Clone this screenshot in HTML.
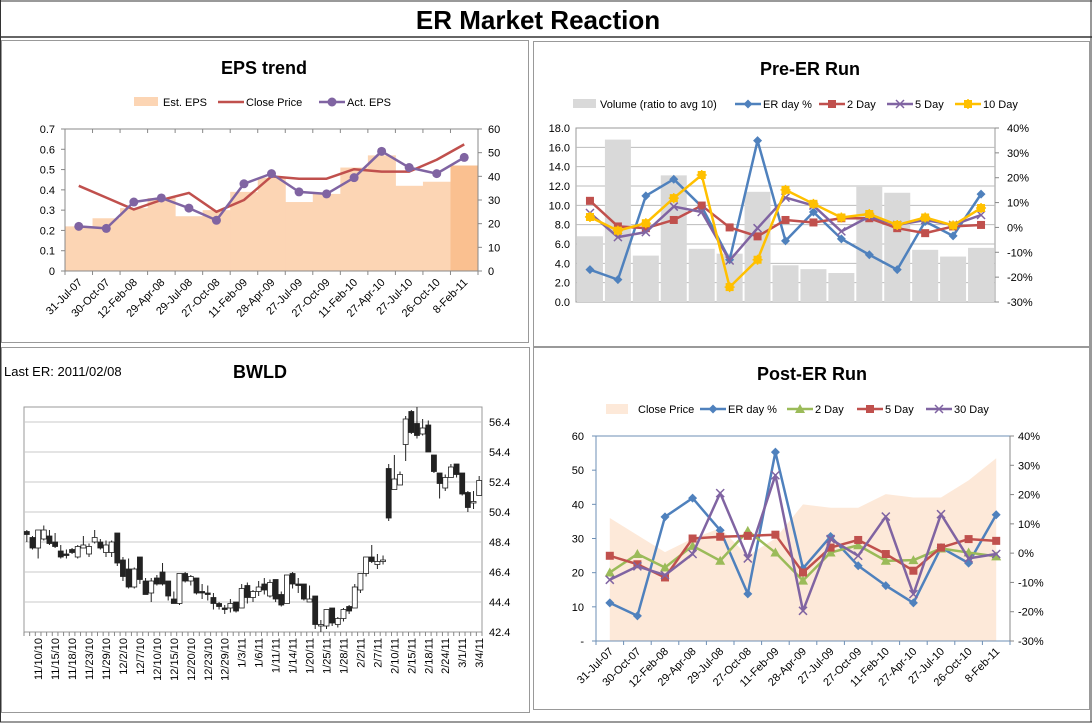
<!DOCTYPE html>
<html><head><meta charset="utf-8"><style>
body{margin:0;background:#fff}
svg{display:block;font-family:"Liberation Sans",sans-serif}
</style></head><body>
<svg id="s" width="1092" height="727" viewBox="0 0 1092 727">
<rect x="0" y="0" width="1092" height="727" fill="#fff"/>
<line x1="0" y1="1" x2="1092" y2="1" stroke="#333"/>
<line x1="0" y1="37" x2="1092" y2="37" stroke="#333" stroke-width="1.5"/>
<line x1="0" y1="722" x2="1092" y2="722" stroke="#333"/>
<line x1="0.5" y1="0" x2="0.5" y2="722" stroke="#333"/>
<line x1="1091" y1="0" x2="1091" y2="722" stroke="#333"/>
<text x="538" y="29" text-anchor="middle" font-size="26" font-weight="bold">ER Market Reaction</text>
<rect x="1.5" y="40.5" width="527" height="302" fill="none" stroke="#999"/>
<rect x="533.5" y="41.5" width="556" height="305" fill="none" stroke="#999"/>
<rect x="1.5" y="347.5" width="528" height="365" fill="none" stroke="#999"/>
<rect x="533.5" y="347.5" width="556" height="362" fill="none" stroke="#999"/>
<text x="264" y="74" text-anchor="middle" font-size="18" font-weight="bold">EPS trend</text>
<text x="810" y="75" text-anchor="middle" font-size="18" font-weight="bold">Pre-ER Run</text>
<text x="260" y="378" text-anchor="middle" font-size="18" font-weight="bold">BWLD</text>
<text x="4" y="376" font-size="13">Last ER: 2011/02/08</text>
<text x="812" y="380" text-anchor="middle" font-size="18" font-weight="bold">Post-ER Run</text>
</svg>
<script>
// ---------- data ----------
const erDates = ["31-Jul-07","30-Oct-07","12-Feb-08","29-Apr-08","29-Jul-08","27-Oct-08","11-Feb-09","28-Apr-09","27-Jul-09","27-Oct-09","11-Feb-10","27-Apr-10","27-Jul-10","26-Oct-10","8-Feb-11"];
const estEps = [0.22,0.26,0.31,0.36,0.27,0.30,0.39,0.46,0.34,0.38,0.51,0.57,0.42,0.44,0.52];
const actEps = [0.22,0.21,0.34,0.36,0.31,0.25,0.43,0.48,0.39,0.38,0.46,0.59,0.51,0.48,0.56];
const closePrice = [36,31,26,30,33,25,30,40,39,39,43,42,42,47,53.5];
const epsLeftTicks = [0,0.1,0.2,0.3,0.4,0.5,0.6,0.7];
const epsRightTicks = [0,10,20,30,40,50,60];

const preVolume = [6.8,16.8,4.8,13.1,5.5,5.0,11.4,3.8,3.4,3.0,12.0,11.3,5.4,4.7,5.6];
const preErDay = [-17,-21,12.7,19.4,8.4,-13,34.9,-5.4,6.2,-4.6,-11,-17,2.4,-3.4,13.4];
const pre2Day = [10.7,0.4,-0.3,3,8.8,0,-3.6,3,2,3.7,3.7,-0.3,-2.3,0.4,1];
const pre5Day = [5.8,-3.9,-1.9,8.4,6.2,-13.3,-0.3,12,8.8,-1.6,4.4,1,3,1,5];
const pre10Day = [4.2,-1.3,1.7,11.8,21.1,-24,-13,15.1,9.5,4,5.4,1,4,0.8,7.8];
const preLeftTicks = [0,2,4,6,8,10,12,14,16,18];
const pctTicks = [-30,-20,-10,0,10,20,30,40];

const postErDay = [-17,-21.4,12.4,18.8,7.8,-13.9,34.5,-5.2,5.7,-4.3,-11.1,-17,1.9,-3.4,13.1];
const post2Day = [-6.6,-0.3,-4.9,2.5,-2.6,7.6,0.2,-9.4,0.2,2.7,-2.6,-2.4,1.6,0.2,-1.1];
const post5Day = [-0.9,-3.8,-8.3,5,5.6,5.9,6.3,-6.6,1.9,4.5,-0.3,-6,1.9,4.8,4.2];
const post30Day = [-9.1,-4.5,-7.5,-0.3,20.5,-1.8,26.6,-19.7,4.8,-0.9,12.5,-14,13.3,-1.8,-0.3];
const postLeftTicks = [0,10,20,30,40,50,60];

const candleOpen  = [49.1,48.7,48.0,48.6,48.8,48.4,47.8,47.6,47.9,47.4,48.0,47.6,48.4,48.4,47.7,47.7,49.0,47.2,46.6,45.4,47.4,45.8,45.0,46.0,46.4,45.8,44.6,44.3,46.3,45.8,46.0,45.1,45.0,44.7,44.3,44.0,44.0,44.4,44.0,45.5,44.7,45.1,45.6,44.8,45.9,44.9,44.3,46.3,45.6,45.6,44.4,44.8,42.8,42.8,44.0,42.9,43.3,44.1,44.0,45.2,46.3,47.4,46.9,47.1,53.3,51.9,52.2,54.9,57.1,56.3,55.6,56.2,54.2,53.0,52.0,52.7,53.6,53.0,51.7,51.1,51.5];
const candleHigh  = [49.2,48.8,49.2,49.5,49.2,49.0,48.2,47.9,48.0,48.2,48.8,48.3,49.2,48.6,48.5,48.5,49.0,47.4,47.3,46.7,47.4,46.0,46.0,46.2,47.0,45.8,45.1,46.3,46.4,46.2,46.0,45.6,45.5,45.0,44.4,44.2,44.6,44.4,45.6,45.7,45.2,45.8,46.0,45.9,45.9,45.1,46.2,46.4,46.0,45.6,45.5,44.8,43.2,43.9,44.0,43.4,44.0,44.2,45.6,46.3,47.4,48.2,47.6,47.5,53.6,54.2,53.1,56.8,57.2,57.4,56.6,56.5,54.2,53.0,52.9,53.6,53.6,53.0,51.8,51.8,52.8];
const candleLow   = [48.4,47.9,47.3,48.5,48.2,48.0,47.3,47.3,47.6,47.3,48.0,47.4,48.3,47.9,47.4,47.4,46.8,45.8,45.3,45.3,45.6,44.9,44.4,45.5,45.5,44.5,44.3,44.2,45.7,45.5,44.9,44.6,44.5,43.9,43.9,43.6,43.7,43.7,44.0,44.3,44.4,44.8,44.9,44.7,44.4,44.1,44.3,45.3,45.0,44.5,44.4,42.6,42.4,42.6,42.8,42.7,43.1,43.6,44.0,45.0,46.1,47.0,46.6,46.9,49.8,51.9,52.2,53.8,55.6,55.3,55.5,54.4,53.0,51.3,51.8,52.7,52.7,51.5,50.4,50.6,51.5];
const candleClose = [48.9,48.0,49.2,49.2,48.3,48.1,47.4,47.5,47.7,48.1,48.2,48.1,48.7,48.0,48.2,48.4,47.0,46.1,45.4,46.6,45.9,44.9,45.8,45.6,45.6,44.8,44.3,46.3,45.8,46.1,45.0,45.0,44.9,44.3,44.1,43.9,44.3,43.8,45.3,44.7,45.1,45.4,45.2,45.7,44.6,44.2,46.2,45.6,45.5,44.6,44.6,42.9,42.9,43.9,43.0,43.3,43.9,43.8,45.4,46.3,47.4,47.1,47.1,47.2,50.0,52.6,52.9,56.6,55.7,55.5,56.0,54.4,53.1,52.3,52.7,53.4,52.9,51.6,50.7,51.1,52.5];
const priceTicks = [42.4,44.4,46.4,48.4,50.4,52.4,54.4,56.4];

// ---------- helpers ----------
const S = document.getElementById('s');
const NS = 'http://www.w3.org/2000/svg';
function mk(tag, attrs, name, text) {
  const el = document.createElementNS(NS, tag);
  for (const k in attrs) el.setAttribute(k, attrs[k]);
  
  
  if (text !== undefined) el.textContent = text;
  S.appendChild(el);
  return el;
}
function lin(d0, d1, r0, r1) { return v => r0 + (v - d0) / (d1 - d0) * (r1 - r0); }
function marker(type, x, y, color, name) {
  if (type === 'circle') mk('circle', {cx:x, cy:y, r:4.5, fill:color}, name);
  else if (type === 'square') mk('rect', {x:x-4, y:y-4, width:8, height:8, fill:color}, name);
  else if (type === 'diamond') mk('path', {d:`M${x} ${y-4.5}L${x+4.5} ${y}L${x} ${y+4.5}L${x-4.5} ${y}Z`, fill:color}, name);
  else if (type === 'tri') mk('path', {d:`M${x} ${y-5}L${x+5} ${y+4}L${x-5} ${y+4}Z`, fill:color}, name);
  else if (type === 'x') mk('path', {d:`M${x-4} ${y-4}L${x+4} ${y+4}M${x-4} ${y+4}L${x+4} ${y-4}`, stroke:color, 'stroke-width':1.5}, name);
  else if (type === 'star') { mk('rect', {x:x-4, y:y-4, width:8, height:8, fill:color}, name); mk('path', {d:`M${x-5} ${y}L${x+5} ${y}M${x} ${y-5}L${x} ${y+5}`, stroke:color, 'stroke-width':1.5}, name); }
}
function series(vals, xf, yf, color, mtype, name, w) {
  const pts = vals.map((v, i) => xf(i) + ',' + yf(v)).join(' ');
  mk('polyline', {points:pts, fill:'none', stroke:color, 'stroke-width':w || 2.5, 'stroke-linejoin':'round'}, name + '-line');
  if (mtype) vals.forEach((v, i) => marker(mtype, xf(i), yf(v), color, name + '-point'));
}
function legendLine(x, y, color, mtype, label, name) {
  mk('line', {x1:x, y1:y, x2:x+26, y2:y, stroke:color, 'stroke-width':2.5}, name + '-swatch');
  if (mtype) marker(mtype, x+13, y, color, name + '-swatch-marker');
  mk('text', {x:x+28, y:y+4, 'font-size':11}, name, label);
}
function xLabels45(xf, y, name) {
  erDates.forEach((d, i) => {
    const x = xf(i) + 4;
    mk('text', {x:x, y:y, 'font-size':11, 'text-anchor':'end', transform:`rotate(-45 ${x} ${y})`}, name, d);
  });
}
const C_BLUE = '#4F81BD', C_RED = '#C0504D', C_PURPLE = '#8064A2', C_GREEN = '#9BBB59', C_YEL = '#FFC000';

// ---------- EPS trend ----------
(function () {
  const x0 = 65, x1 = 478, yT = 129, yB = 271, n = erDates.length, cw = (x1 - x0) / n;
  const yL = lin(0, 0.7, yB, yT), yR = lin(0, 60, yB, yT);
  const xc = i => x0 + cw * (i + 0.5);
  estEps.forEach((v, i) => mk('rect', {x:x0 + cw*i, y:yL(v), width:cw + 0.5, height:yB - yL(v), fill:i === n-1 ? '#FAC090' : '#FCD5B4'}, 'est-eps-bar'));
  series(closePrice, xc, yR, C_RED, null, 'eps-close-price');
  series(actEps, xc, yL, C_PURPLE, 'circle', 'act-eps');
  mk('line', {x1:x0, y1:yB, x2:x1, y2:yB, stroke:'#888'}, 'eps-x-axis');
  mk('line', {x1:x0, y1:yT, x2:x1, y2:yT, stroke:'#888'}, 'eps-secondary-x-axis');
  mk('line', {x1:x0, y1:yT, x2:x0, y2:yB, stroke:'#888'}, 'eps-left-axis');
  mk('line', {x1:x1, y1:yT, x2:x1, y2:yB, stroke:'#888'}, 'eps-right-axis');
  for (let i = 0; i <= n; i++) { const x = x0 + cw*i; mk('line', {x1:x, y1:yB, x2:x, y2:yB+4, stroke:'#888'}, 'eps-x-tick'); mk('line', {x1:x, y1:yT, x2:x, y2:yT+4, stroke:'#888'}, 'eps-x2-tick'); }
  epsLeftTicks.forEach(t => { mk('line', {x1:x0-4, y1:yL(t), x2:x0, y2:yL(t), stroke:'#888'}, 'eps-left-tick'); mk('text', {x:x0-10, y:yL(t)+4, 'font-size':11, 'text-anchor':'end'}, 'eps-left-tick-label', String(t)); });
  epsRightTicks.forEach(t => { mk('line', {x1:x1, y1:yR(t), x2:x1+4, y2:yR(t), stroke:'#888'}, 'eps-right-tick'); mk('text', {x:x1+10, y:yR(t)+4, 'font-size':11}, 'eps-right-tick-label', String(t)); });
  xLabels45(xc, 283, 'eps-x-label');
  mk('rect', {x:134, y:97, width:24, height:9, fill:'#FCD5B4'}, 'legend-est-eps-swatch');
  mk('text', {x:163, y:106, 'font-size':11}, 'legend-est-eps', 'Est. EPS');
  legendLine(218, 102, C_RED, null, 'Close Price', 'legend-close-price');
  legendLine(319, 102, C_PURPLE, 'circle', 'Act. EPS', 'legend-act-eps');
})();

// ---------- Pre-ER Run ----------
(function () {
  const x0 = 576, x1 = 995, yT = 128, yB = 302, n = erDates.length, cw = (x1 - x0) / n;
  const yL = lin(0, 18, yB, yT), yR = lin(-30, 40, yB, yT);
  const xc = i => x0 + cw * (i + 0.5);
  mk('rect', {x:x0, y:yT, width:x1-x0, height:yB-yT, fill:'none', stroke:'#999'}, 'pre-plot-area');
  preLeftTicks.forEach(t => { if (t > 0 && t < 18) mk('line', {x1:x0, y1:yL(t), x2:x1, y2:yL(t), stroke:'#bbb'}, 'pre-gridline'); mk('text', {x:x0-6, y:yL(t)+4, 'font-size':11, 'text-anchor':'end'}, 'pre-left-tick-label', t.toFixed(1)); });
  pctTicks.forEach(t => { mk('line', {x1:x1, y1:yR(t), x2:x1+4, y2:yR(t), stroke:'#888'}, 'pre-right-tick'); mk('text', {x:x1+12, y:yR(t)+4, 'font-size':11}, 'pre-right-tick-label', t + '%'); });
  preVolume.forEach((v, i) => mk('rect', {x:xc(i)-13, y:yL(v), width:26, height:yB-yL(v), fill:'#D9D9D9'}, 'volume-bar'));
  series(preErDay, xc, yR, C_BLUE, 'diamond', 'pre-er-day');
  series(pre2Day, xc, yR, C_RED, 'square', 'pre-2-day');
  series(pre5Day, xc, yR, C_PURPLE, 'x', 'pre-5-day');
  series(pre10Day, xc, yR, C_YEL, 'star', 'pre-10-day');
  mk('rect', {x:573, y:99, width:23, height:9, fill:'#D9D9D9'}, 'legend-volume-swatch');
  mk('text', {x:600, y:108, 'font-size':11}, 'legend-volume', 'Volume (ratio to avg 10)');
  legendLine(735, 104, C_BLUE, 'diamond', 'ER day %', 'legend-pre-er-day');
  legendLine(819, 104, C_RED, 'square', '2 Day', 'legend-pre-2-day');
  legendLine(887, 104, C_PURPLE, 'x', '5 Day', 'legend-pre-5-day');
  legendLine(955, 104, C_YEL, 'star', '10 Day', 'legend-pre-10-day');
})();

// ---------- BWLD candlestick ----------
(function () {
  const x0 = 24, x1 = 482, yT = 407, yB = 632, n = candleOpen.length, cw = (x1 - x0) / n;
  const y = lin(42.4, 57.4, yB, yT);
  const xc = i => x0 + cw * (i + 0.5);
  // trading-day labels (weekdays minus market holidays)
  const hol = ['2010-11-25','2010-12-24','2011-01-17','2011-02-21'];
  const days = []; const d = new Date(Date.UTC(2010, 10, 8));
  while (days.length < n) { const wd = d.getUTCDay(); const iso = d.toISOString().slice(0,10); if (wd > 0 && wd < 6 && !hol.includes(iso)) days.push((d.getUTCMonth()+1) + '/' + d.getUTCDate() + '/' + String(d.getUTCFullYear()).slice(2)); d.setUTCDate(d.getUTCDate()+1); }
  mk('rect', {x:x0, y:yT, width:x1-x0, height:yB-yT, fill:'none', stroke:'#999'}, 'bwld-plot-area');
  priceTicks.forEach(t => { if (t > 42.4) mk('line', {x1:x0, y1:y(t), x2:x1, y2:y(t), stroke:'#c8c8c8'}, 'bwld-gridline'); mk('text', {x:x1+7, y:y(t)+4, 'font-size':11}, 'bwld-price-label', t.toFixed(1)); });
  for (let i = 0; i <= n; i++) mk('line', {x1:x0+cw*i, y1:yB, x2:x0+cw*i, y2:yB+4, stroke:'#888'}, 'bwld-x-tick');
  days.forEach((lab, i) => { if (i % 3 === 2) { const x = xc(i) + 4, yy = 638; mk('text', {x:x, y:yy, 'font-size':11, 'text-anchor':'end', transform:`rotate(-90 ${x} ${yy})`}, 'bwld-date-label', lab); } });
  candleOpen.forEach((o, i) => {
    const c = candleClose[i], up = c >= o, x = xc(i);
    mk('line', {x1:x, y1:y(candleHigh[i]), x2:x, y2:y(candleLow[i]), stroke:'#222'}, 'candle-wick');
    const top = y(Math.max(o, c)), h = Math.max(1.5, Math.abs(y(o) - y(c)));
    mk('rect', {x:x-2.5, y:top, width:5, height:h, fill:up ? '#fff' : '#222', stroke:'#222', 'stroke-width':0.8}, 'candle-body');
  });
})();

// ---------- Post-ER Run ----------
(function () {
  const x0 = 596, x1 = 1010, yT = 436, yB = 641, n = erDates.length, cw = (x1 - x0) / n;
  const yL = lin(0, 60, yB, yT), yR = lin(-30, 40, yB, yT);
  const xc = i => x0 + cw * (i + 0.5);
  const area = 'M' + xc(0) + ' ' + yB + ' ' + closePrice.map((v, i) => 'L' + xc(i) + ' ' + yL(v)).join(' ') + ' L' + xc(n-1) + ' ' + yB + ' Z';
  mk('path', {d:area, fill:'#FDE9D9'}, 'post-close-price-area');
  mk('line', {x1:x0, y1:yT, x2:x0, y2:yB, stroke:'#6E8FB5'}, 'post-left-axis');
  mk('line', {x1:x0, y1:yB, x2:x1, y2:yB, stroke:'#6E8FB5'}, 'post-x-axis');
  mk('line', {x1:x0, y1:yT, x2:x1, y2:yT, stroke:'#6E8FB5'}, 'post-top-axis');
  mk('line', {x1:x1, y1:yT, x2:x1, y2:yB, stroke:'#888'}, 'post-right-axis');
  postLeftTicks.forEach(t => { mk('line', {x1:x0-4, y1:yL(t), x2:x0, y2:yL(t), stroke:'#6E8FB5'}, 'post-left-tick'); mk('text', {x:x0-12, y:yL(t)+4, 'font-size':11, 'text-anchor':'end'}, 'post-left-tick-label', t === 0 ? '-' : String(t)); });
  pctTicks.forEach(t => { mk('line', {x1:x1, y1:yR(t), x2:x1+4, y2:yR(t), stroke:'#888'}, 'post-right-tick'); mk('text', {x:x1+8, y:yR(t)+4, 'font-size':11}, 'post-right-tick-label', t + '%'); });
  for (let i = 0; i <= n; i++) mk('line', {x1:x0+cw*i, y1:yB, x2:x0+cw*i, y2:yB+4, stroke:'#6E8FB5'}, 'post-x-tick');
  series(postErDay, xc, yR, C_BLUE, 'diamond', 'post-er-day');
  series(post2Day, xc, yR, C_GREEN, 'tri', 'post-2-day');
  series(post5Day, xc, yR, C_RED, 'square', 'post-5-day');
  series(post30Day, xc, yR, C_PURPLE, 'x', 'post-30-day');
  xLabels45(xc, 652, 'post-x-label');
  mk('rect', {x:606, y:404, width:22, height:10, fill:'#FDE9D9'}, 'legend-post-close-swatch');
  mk('text', {x:638, y:413, 'font-size':11}, 'legend-post-close', 'Close Price');
  legendLine(700, 409, C_BLUE, 'diamond', 'ER day %', 'legend-post-er-day');
  legendLine(787, 409, C_GREEN, 'tri', '2 Day', 'legend-post-2-day');
  legendLine(857, 409, C_RED, 'square', '5 Day', 'legend-post-5-day');
  legendLine(926, 409, C_PURPLE, 'x', '30 Day', 'legend-post-30-day');
})();
</script>
</body></html>
